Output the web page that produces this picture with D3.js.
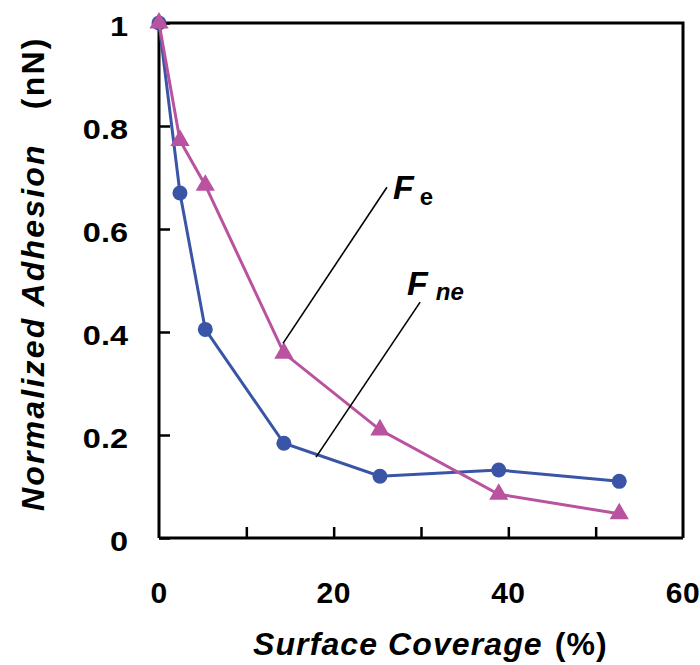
<!DOCTYPE html>
<html>
<head>
<meta charset="utf-8">
<script src="https://cdn.jsdelivr.net/npm/d3@7"></script>
<style>
  html, body { margin: 0; padding: 0; background: #fff; }
  svg { display: block; font-family: "Liberation Sans", Arial, sans-serif; }
</style>
</head>
<body>
<svg id="chart" width="700" height="665"></svg>
<script>
// Surface coverage (%) at which adhesion was measured
const coverage = [0, 2.4, 5.3, 14.3, 25.3, 38.9, 52.7];
// Normalized adhesion, non-electrostatic component (F_ne)
const fne = [1.0, 0.67, 0.405, 0.184, 0.12, 0.132, 0.11];
// Normalized adhesion, electrostatic component (F_e)
const fe = [1.0, 0.772, 0.685, 0.359, 0.21, 0.085, 0.047];

const xTickLabels = [0, 20, 40, 60];
const xMinorTicks = [10, 20, 30, 40, 50];
const yTickValues = [0, 0.2, 0.4, 0.6, 0.8, 1];

const svg = d3.select("#chart");
const plotLeft = 159, plotRight = 683, plotTop = 23, plotBottom = 538;

const x = d3.scaleLinear().domain([0, 60]).range([plotLeft, plotRight]);
const y = d3.scaleLinear().domain([0, 1]).range([plotBottom, plotTop]);

const blue = "#3A55A6";
const pink = "#B9529F";

// Frame: top and right edges
svg.append("path")
  .attr("d", `M${plotLeft},${plotTop}H${plotRight}V${plotBottom}`)
  .attr("fill", "none").attr("stroke", "#000").attr("stroke-width", 3);

// Y axis with inward ticks
const yAxis = svg.append("g")
  .attr("transform", `translate(${plotLeft},0)`)
  .call(d3.axisRight(y).tickValues(yTickValues).tickSize(11).tickFormat(""));
yAxis.select(".domain").attr("stroke-width", 3).attr("d", `M0,${plotTop}V${plotBottom}`);
yAxis.selectAll(".tick line").attr("stroke-width", 2.5);

// Y tick labels (slightly widened glyphs)
svg.append("g").selectAll("text").data(yTickValues).join("text")
  .attr("transform", d => `translate(128,${y(d) + 13}) scale(1.16,1)`)
  .attr("text-anchor", "end")
  .attr("font-size", 28).attr("font-weight", "bold")
  .text(d => d === 0 || d === 1 ? d3.format("d")(d) : d3.format(".1f")(d));

// X axis with inward ticks
const xAxis = svg.append("g")
  .attr("transform", `translate(0,${plotBottom})`)
  .call(d3.axisTop(x).tickValues(xMinorTicks).tickSize(11).tickFormat(""));
xAxis.select(".domain").attr("stroke-width", 3).attr("d", `M${plotLeft},0H${plotRight}`);
xAxis.selectAll(".tick line").attr("stroke-width", 2.5);

// X tick labels
svg.append("g").selectAll("text").data(xTickLabels).join("text")
  .attr("x", d => x(d)).attr("y", 603)
  .attr("text-anchor", "middle")
  .attr("font-size", 30).attr("font-weight", "bold")
  .attr("letter-spacing", 0.5)
  .text(d => d);

// Axis titles
const xt = svg.append("text")
  .attr("x", 253).attr("y", 655)
  .attr("font-size", 32).attr("font-weight", "bold").attr("letter-spacing", 1.1);
xt.append("tspan").attr("font-style", "italic").text("Surface Coverage");
xt.append("tspan").attr("dx", 12).text("(%)");

const yt = svg.append("text")
  .attr("transform", "translate(44,511) rotate(-90)")
  .attr("font-size", 32).attr("font-weight", "bold").attr("letter-spacing", 2.2);
yt.append("tspan").attr("font-style", "italic").text("Normalized Adhesion");
yt.append("tspan").attr("dx", 34).text("(nN)");

// Series
const line = d3.line().x(d => x(d[0])).y(d => y(d[1]));
const neData = coverage.map((c, i) => [c, fne[i]]);
const eData = coverage.map((c, i) => [c, fe[i]]);

svg.append("path").datum(neData).attr("d", line)
  .attr("fill", "none").attr("stroke", blue).attr("stroke-width", 3);
svg.append("g").selectAll("circle").data(neData).join("circle")
  .attr("cx", d => x(d[0])).attr("cy", d => y(d[1])).attr("r", 7.5)
  .attr("fill", blue);

svg.append("path").datum(eData).attr("d", line)
  .attr("fill", "none").attr("stroke", pink).attr("stroke-width", 3);
const tri = d3.symbol().type(d3.symbolTriangle).size(160);
svg.append("g").selectAll("path").data(eData).join("path")
  .attr("transform", d => `translate(${x(d[0])},${y(d[1])})`)
  .attr("d", tri).attr("fill", pink);

// Leader lines and labels
svg.append("line")
  .attr("x1", x(14.2)).attr("y1", y(0.378))
  .attr("x2", x(26.1)).attr("y2", y(0.681))
  .attr("stroke", "#000").attr("stroke-width", 1.6);
svg.append("line")
  .attr("x1", x(17.98)).attr("y1", y(0.157))
  .attr("x2", x(29.9)).attr("y2", y(0.458))
  .attr("stroke", "#000").attr("stroke-width", 1.6);

const feLabel = svg.append("text").attr("x", 393).attr("y", 199).attr("font-weight", "bold");
feLabel.append("tspan").attr("font-style", "italic").attr("font-size", 34).text("F");
feLabel.append("tspan").attr("dx", 6).attr("dy", 6).attr("font-size", 24).text("e");

const fneLabel = svg.append("text").attr("x", 407).attr("y", 295).attr("font-weight", "bold");
fneLabel.append("tspan").attr("font-style", "italic").attr("font-size", 34).text("F");
fneLabel.append("tspan").attr("font-style", "italic").attr("dx", 8).attr("dy", 5).attr("font-size", 24).text("ne");
</script>
</body>
</html>
